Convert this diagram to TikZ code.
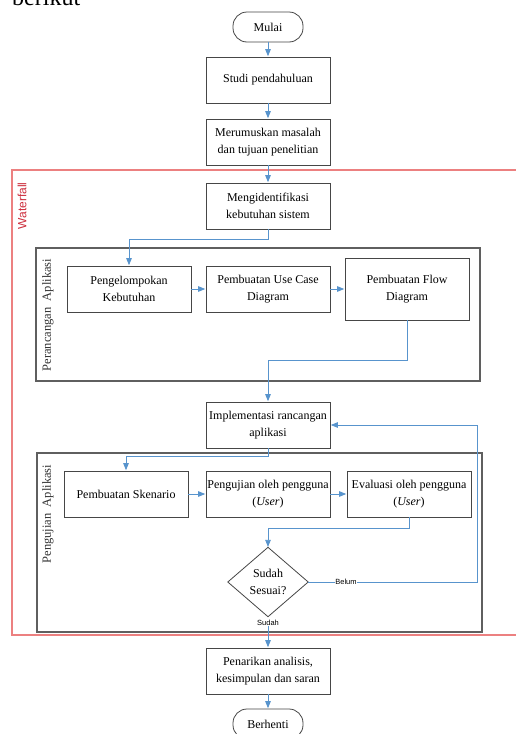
\documentclass[tikz,border=0pt]{standalone}
\usepackage{fontspec}
\setmainfont{Liberation Serif}
\newfontfamily\labelsans{Liberation Sans}
\usetikzlibrary{arrows.meta}

\definecolor{boxgray}{RGB}{70,70,70}
\definecolor{groupgray}{RGB}{95,95,95}
\definecolor{flowblue}{RGB}{88,148,205}
\definecolor{frameRed}{RGB}{236,128,128}
\definecolor{frameText}{RGB}{205,45,60}

\tikzset{
  stepbox/.style={draw=boxgray, line width=0.8pt, minimum width=124pt,
    minimum height=46pt, inner sep=1pt, align=center,
    font=\fontsize{12}{16.5}\selectfont},
  terminal/.style={draw=boxgray, line width=0.8pt, rounded corners=14pt,
    minimum width=70pt, minimum height=30pt, inner sep=1pt,
    font=\fontsize{12}{16.5}\selectfont},
  decisionbox/.style={minimum width=80pt, minimum height=69pt, inner sep=0pt,
    align=center, font=\fontsize{12}{16.5}\selectfont},
  groupbox/.style={draw=groupgray, line width=1.1pt},
  grouplabel/.style={rotate=90, text=black!80, font=\fontsize{12.5}{15}\selectfont},
  flow/.style={draw=flowblue, line width=0.8pt,
    -{Triangle[length=7pt,width=5.5pt]}, shorten >=0.4pt},
  flowplain/.style={draw=flowblue, line width=0.8pt},
  smalllabel/.style={font=\labelsans\fontsize{7.5}{9}\selectfont, inner sep=0.5pt, fill=white}
}

\begin{document}
\begin{tikzpicture}[x=1pt, y=-1pt]
  \clip (0,0) rectangle (516,734);
  \fill[white] (0,0) rectangle (516,734);

  % running text from the page above
  \node[anchor=base west, inner sep=0pt, font=\fontsize{24}{24}\selectfont] (berikut) at (12,5) {berikut};

  % Waterfall frame
  \draw[draw=frameRed, line width=1.2pt] (12,170) rectangle (530,635);
  \node[rotate=90, text=frameText, font=\labelsans\fontsize{12}{14}\selectfont] (wf) at (22,206) {Waterfall};

  % group containers
  \draw[groupbox] (36,248) rectangle (480,381);
  \node[grouplabel] (glrancang) at (48,315) {Perancangan\ \ Aplikasi};
  \draw[groupbox] (37,453) rectangle (482,632);
  \node[grouplabel] (gluji) at (48,514) {Pengujian\ \ Aplikasi};

  % main steps
  \node[terminal] (mulai) at (268,27) {Mulai};
  \node[stepbox] (studi) at (268,80) {Studi pendahuluan};
  \node[stepbox] (rumus) at (268,142) {Merumuskan masalah\\dan tujuan penelitian};
  \node[stepbox] (ident) at (268,206) {Mengidentifikasi\\kebutuhan sistem};

  \node[stepbox] (kelompok) at (129,289) {Pengelompokan\\Kebutuhan};
  \node[stepbox] (usecase) at (268,289) {Pembuatan Use Case\\Diagram};
  \node[stepbox, minimum height=62pt] (flowd) at (407,289) {Pembuatan Flow\\Diagram};

  \node[stepbox] (impl) at (268,425) {Implementasi rancangan\\aplikasi};

  \node[stepbox] (skenario) at (126,494) {Pembuatan Skenario};
  \node[stepbox] (uji) at (268,494) {Pengujian oleh pengguna\\(\textit{User})};
  \node[stepbox] (eval) at (409,494) {Evaluasi oleh pengguna\\(\textit{User})};

  \node[decisionbox] (cek) at (268,582) {Sudah\\Sesuai?};
  \draw[draw=boxgray, line width=0.8pt] (cek.north) -- (cek.east) -- (cek.south) -- (cek.west) -- cycle;

  \node[stepbox] (tarik) at (268,671) {Penarikan analisis,\\kesimpulan dan saran};
  \node[terminal] (berhenti) at (268,724) {Berhenti};

  % connectors
  \draw[flow] (mulai) -- (studi);
  \draw[flow] (studi) -- (rumus);
  \draw[flow] (rumus) -- (ident);
  \draw[flow] (ident.south) -- ++(0,10) -| (kelompok.north);
  \draw[flow] (kelompok) -- (usecase);
  \draw[flow] (usecase) -- (flowd);
  \draw[flow] (flowd.south) -- ++(0,40) -| (impl.north);
  \draw[flow] (impl.south) -- ++(0,8) -| (skenario.north);
  \draw[flow] (skenario) -- (uji);
  \draw[flow] (uji) -- (eval);
  \draw[flow] (eval.south) -- ++(0,11) -| (cek.north);
  \coordinate (loopcorner) at (477,582);
  \draw[flow] (cek.east) -- (loopcorner) |- (impl.east);
  \node[smalllabel] (belum) at (346,582) {Belum};
  \node[smalllabel, fill=none] (sudah) at (268,623) {Sudah};
  \draw[flow] (sudah.south) -- (tarik.north);
  \draw[flow] (tarik) -- (berhenti);
\end{tikzpicture}
\end{document}
